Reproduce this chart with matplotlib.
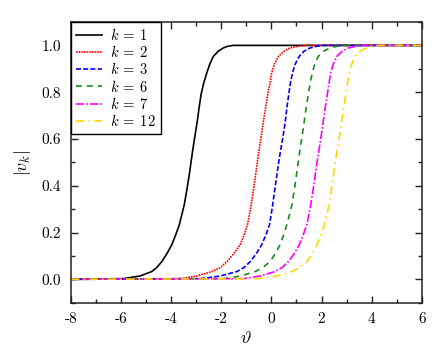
import numpy as np
import matplotlib
matplotlib.use("Agg")
import matplotlib.pyplot as plt
from matplotlib.ticker import MultipleLocator

# -----------------------------
# Values
# -----------------------------
labels = [r"$k\:=\:1$", r"$k\:=\:2$", r"$k\:=\:3$", r"$k\:=\:6$", r"$k\:=\:7$", r"$k\:=\:12$"]

# |v_k| levels shared by all curves, and the theta where each curve reaches them
v_levels = [0, 0.003, 0.014, 0.033, 0.05, 0.075, 0.11, 0.147, 0.19, 0.232, 0.275, 0.318,
            0.38, 0.439, 0.50, 0.553, 0.615, 0.675, 0.735, 0.789, 0.84, 0.882, 0.92,
            0.953, 0.975, 0.989, 0.996, 1.0, 1.0]

theta_k1 = [-8, -5.9, -5.25, -4.78, -4.58, -4.38, -4.17, -3.98, -3.82, -3.68, -3.58, -3.48,
            -3.38, -3.29, -3.21, -3.14, -3.05, -2.96, -2.885, -2.81, -2.70, -2.58, -2.46,
            -2.32, -2.12, -1.92, -1.75, -1.53, 6]
theta_k2 = [-8, -3.6, -2.98, -2.38, -2.05, -1.78, -1.50, -1.25, -1.09, -0.96, -0.88, -0.81,
            -0.72, -0.64, -0.565, -0.495, -0.40, -0.32, -0.23, -0.15, -0.05, 0.01, 0.12,
            0.28, 0.50, 0.74, 1.05, 1.41, 6]
theta_k3 = [-8, -2.8, -2.05, -1.38, -1.10, -0.85, -0.60, -0.39, -0.22, -0.08, -0.01, 0.05,
            0.13, 0.21, 0.29, 0.37, 0.47, 0.555, 0.62, 0.69, 0.76, 0.84, 0.95,
            1.11, 1.30, 1.54, 1.80, 2.07, 6]
theta_k6 = [-8, -1.9, -1.25, -0.65, -0.35, -0.06, 0.16, 0.34, 0.49, 0.61, 0.72, 0.82,
            0.91, 0.99, 1.07, 1.14, 1.23, 1.31, 1.39, 1.47, 1.55, 1.63, 1.73,
            1.87, 2.08, 2.34, 2.60, 2.87, 6]
theta_k7 = [-8, -1.1, -0.45, 0.14, 0.42, 0.67, 0.91, 1.11, 1.27, 1.41, 1.49, 1.57,
            1.66, 1.74, 1.82, 1.90, 1.99, 2.07, 2.15, 2.23, 2.30, 2.37, 2.47,
            2.61, 2.82, 3.07, 3.37, 3.67, 6]
theta_k12 = [-8, -0.5, 0.21, 0.81, 1.12, 1.41, 1.63, 1.81, 1.97, 2.11, 2.21, 2.30,
             2.39, 2.47, 2.55, 2.63, 2.72, 2.81, 2.89, 2.97, 3.04, 3.11, 3.21,
             3.34, 3.55, 3.80, 4.07, 4.34, 6]

# -----------------------------
# Style
# -----------------------------
plt.rcParams["font.family"] = "cmr10"
plt.rcParams["mathtext.fontset"] = "cm"
plt.rcParams["axes.unicode_minus"] = False
plt.rcParams["axes.formatter.use_mathtext"] = False

thetas = [theta_k1, theta_k2, theta_k3, theta_k6, theta_k7, theta_k12]
colors = ["black", "#ff0000", "#0000ff", "#1a8a1a", "#ff00ff", "#ffd700"]
styles = ["-", (0, (1, 0.6)), (0, (3, 1.3)), (0, (3.5, 3)), (0, (5, 1.2, 1, 1.2)), (0, (5, 2.5, 1, 2.5))]

fig = plt.figure(figsize=(4.37, 3.53), dpi=100)
ax = fig.add_axes([0.1625, 0.1425, 0.8025, 0.7952])

for th, c, ls, lab in zip(thetas, colors, styles, labels):
    ax.plot(th, v_levels, color=c, linestyle=ls, linewidth=1.2, label=lab)

ax.set_xlim(-8, 6)
ax.set_ylim(-0.1, 1.1)
ax.xaxis.set_major_locator(MultipleLocator(2))
ax.xaxis.set_minor_locator(MultipleLocator(1))
ax.yaxis.set_major_locator(MultipleLocator(0.2))
ax.yaxis.set_minor_locator(MultipleLocator(0.1))
ax.tick_params(which="both", direction="in", top=True, right=True, width=1, colors="#222222",
               labelcolor="black", labelsize=11)
ax.tick_params(which="major", length=5, pad=7)
ax.tick_params(which="minor", length=3)
for sp in ax.spines.values():
    sp.set_linewidth(1.1)
    sp.set_color("#222222")

ax.set_xlabel(r"$\vartheta$", fontsize=13, labelpad=3)
ax.set_ylabel(r"$|v_k|$", fontsize=13, labelpad=6)

leg = ax.legend(loc="upper left", fontsize=10.5, handlelength=1.8, handletextpad=0.55,
                labelspacing=0.08, borderaxespad=0, borderpad=0.35, fancybox=False,
                framealpha=1, edgecolor="black")
leg.get_frame().set_linewidth(1.0)

fig.savefig("out.png", dpi=100)
